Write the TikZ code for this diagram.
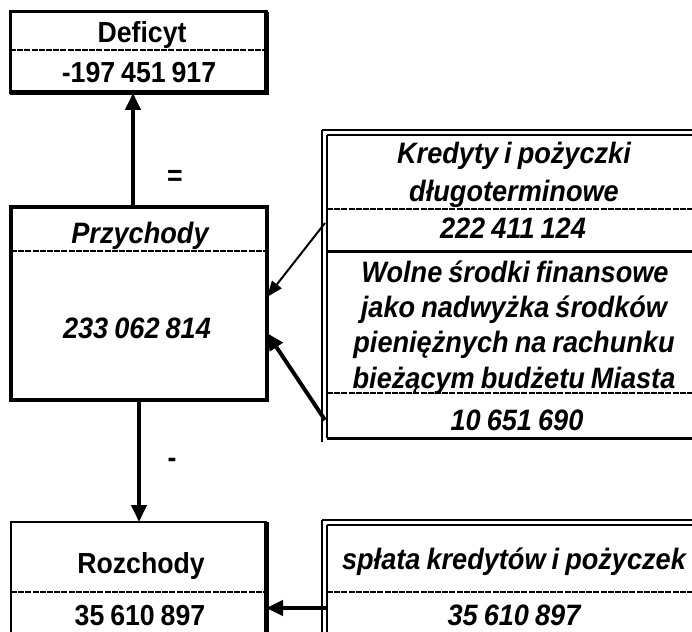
\documentclass[tikz,border=0pt]{standalone}
\usepackage{fontspec}
\setmainfont{Liberation Sans}[FakeStretch=0.92, WordSpace=0.8]
\usetikzlibrary{arrows.meta}
\begin{document}
\begin{tikzpicture}[x=1pt,y=-1pt,
  txt/.style={font=\fontsize{29}{33}\selectfont\bfseries, inner sep=0pt, anchor=base},
  itx/.style={font=\fontsize{29.5}{33}\selectfont\bfseries\itshape, inner sep=0pt, anchor=base},
  box/.style={draw, line width=3pt, inner sep=0pt, outer sep=0pt, anchor=north west},
  frame/.style={inner sep=0pt, outer sep=0pt, anchor=north west},
  sep/.style={line width=2.4pt, dash pattern=on 6pt off 1.2pt},
  solid3/.style={line width=3pt},
  arr/.style={line width=4pt, -{Triangle[length=17pt,width=15pt]}},
  thinarr/.style={line width=2pt, -{Triangle[length=16pt,width=12pt]}}]
\useasboundingbox (0,0) rectangle (692,631);

% ---------- Deficyt ----------
\node[box, minimum width=256pt, minimum height=81pt] (def) at (10,12) {};
\draw[line width=5pt] (def.north east) -- (def.south east) -- (def.south west);
\draw[sep] (def.west |- 0,50) -- (def.east |- 0,50);
\node[txt] (deft) at (142,43) {Deficyt};
\node[txt] (defv) at (139,83) {-197 451 917};

% ---------- Przychody ----------
\node[box, line width=4.5pt, minimum width=256pt, minimum height=193pt] (prz) at (11,207) {};
\draw[sep] (prz.west |- 0,251) -- (prz.east |- 0,251);
\node[itx] (przt) at (140,243) {Przychody};
\node[itx] (przv) at (137,338) {233 062 814};

% ---------- Rozchody ----------
\node[box, line width=2pt, minimum width=255pt, minimum height=130pt] (roz) at (11,522) {};
\draw[line width=5pt] (roz.north east) -- (roz.south east);
\draw[sep] (roz.west |- 0,592) -- (roz.east |- 0,592);
\node[txt] (rozt) at (141,573) {Rozchody};
\node[txt] (rozv) at (140,625) {35 610 897};

% ---------- right table: Kredyty / Wolne srodki ----------
\node[frame, minimum width=380pt, minimum height=312pt] (kred) at (322,130) {};
\draw[line width=1.6pt] (kred.north west) -- (kred.south west);
\draw[line width=1.6pt] (kred.north west) -- (kred.north east);
\draw[line width=2.6pt] (327,135) -- (kred.east |- 0,135);
\draw[line width=2.6pt] (327,135) -- (327,438);
\draw[sep] (327,209) -- (kred.east |- 0,209);
\draw[solid3] (327,251) -- (kred.east |- 0,251);
\draw[sep] (327,393) -- (kred.east |- 0,393);
\draw[solid3] (327,438) -- (kred.east |- 0,438);
\node[itx] (k1) at (514,163) {Kredyty i pożyczki};
\node[itx] (k2) at (514,201) {długoterminowe};
\node[itx] (kv) at (513,238) {222 411 124};
\node[itx] (w1) at (515,282) {Wolne środki finansowe};
\node[itx] (w2) at (514,317) {jako nadwyżka środków};
\node[itx] (w3) at (514,352) {pieniężnych na rachunku};
\node[itx] (w4) at (514,388) {bieżącym budżetu Miasta};
\node[itx] (wv) at (517,430) {10 651 690};

% ---------- right table: splata ----------
\node[frame, minimum width=380pt, minimum height=130pt] (spl) at (322,520) {};
\draw[line width=1.6pt] (spl.north west) -- (spl.south west);
\draw[line width=1.6pt] (spl.north west) -- (spl.north east);
\draw[line width=2.6pt] (327,525) -- (spl.east |- 0,525);
\draw[line width=2.6pt] (327,525) -- (327,650);
\draw[sep] (327,592) -- (spl.east |- 0,592);
\node[itx] (st) at (514,569) {spłata kredytów i pożyczek};
\node[itx] (sv) at (514,625) {35 610 897};

% ---------- connectors ----------
\draw[arr] (prz.north -| 133,0) -- (def.south -| 133,0);
\node[txt, anchor=center] (eq) at (175,178) {=};
\draw[arr] (prz.south -| 139,0) -- (roz.north -| 139,0);
\node[txt, anchor=center] (mn) at (172,463) {-};
\draw[thinarr] (kred.west |- 0,223) ++(3,0) -- (prz.east |- 0,297);
\draw[arr] (kred.west |- 0,420) ++(3,0) -- (prz.east |- 0,333);
\draw[arr] (spl.west |- 0,608) ++(5,0) -- (roz.east |- 0,608);
\end{tikzpicture}
\end{document}
